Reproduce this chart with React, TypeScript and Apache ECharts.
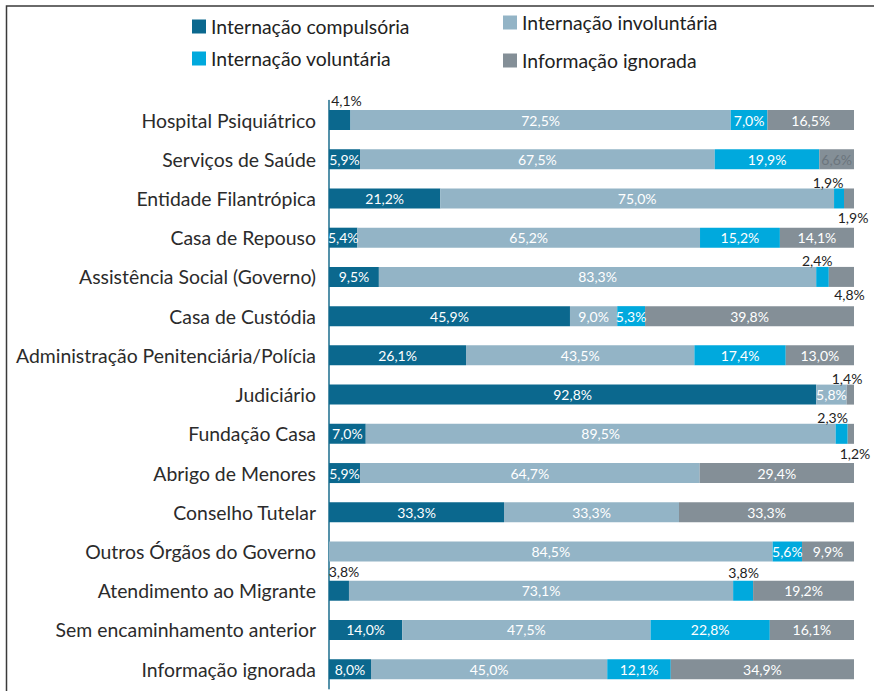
import React, { useEffect, useRef } from "react";
import * as echarts from "echarts";

const categories = [
  "Hospital Psiquiátrico",
  "Serviços de Saúde",
  "Entidade Filantrópica",
  "Casa de Repouso",
  "Assistência Social (Governo)",
  "Casa de Custódia",
  "Administração Penitenciária/Polícia",
  "Judiciário",
  "Fundação Casa",
  "Abrigo de Menores",
  "Conselho Tutelar",
  "Outros Órgãos do Governo",
  "Atendimento ao Migrante",
  "Sem encaminhamento anterior",
  "Informação ignorada",
];

const seriesNames = [
  "Internação compulsória",
  "Internação involuntária",
  "Internação voluntária",
  "Informação ignorada",
];

const compulsoria = [4.1, 5.9, 21.2, 5.4, 9.5, 45.9, 26.1, 92.8, 7.0, 5.9, 33.3, 0, 3.8, 14.0, 8.0];
const involuntaria = [72.5, 67.5, 75.0, 65.2, 83.3, 9.0, 43.5, 5.8, 89.5, 64.7, 33.3, 84.5, 73.1, 47.5, 45.0];
const voluntaria = [7.0, 19.9, 1.9, 15.2, 2.4, 5.3, 17.4, 0, 2.3, 0, 0, 5.6, 3.8, 22.8, 12.1];
const ignorada = [16.5, 6.6, 1.9, 14.1, 4.8, 39.8, 13.0, 1.4, 1.2, 29.4, 33.3, 9.9, 19.2, 16.1, 34.9];

const colors = ["#0b688e", "#93b4c6", "#00a9dd", "#848f97"];

// label placements for small segments: [seriesIndex, rowIndex] -> [dx, dy]
const outsideLabels: Record<string, [number, number]> = {
  "0-0": [17.5, -9.5],
  "2-2": [-6, -6],
  "3-2": [9, 29],
  "2-4": [1, -6],
  "3-4": [20.7, 28],
  "3-7": [0.4, -6.5],
  "2-8": [-3, -6.5],
  "3-8": [7.3, 29.3],
  "0-12": [15, -9],
  "2-12": [10.5, -8],
};

const FONT = "Lato, 'Open Sans', sans-serif";

export default function App() {
  const ref = useRef<HTMLDivElement>(null);
  useEffect(() => {
    if (!ref.current) return;
    const chart = echarts.init(ref.current, null, { renderer: "svg" });
    const all = [compulsoria, involuntaria, voluntaria, ignorada];
    const totals = categories.map((_, i) => all.reduce((s, arr) => s + arr[i], 0));
    const fmt = (v: number) => v.toFixed(1).replace(".", ",") + "%";

    const series = all.map((arr, si) => ({
      name: seriesNames[si],
      type: "bar",
      stack: "total",
      barWidth: 20,
      itemStyle: { color: colors[si] },
      data: arr.map((v, ri) => {
        const key = `${si}-${ri}`;
        const item: any = {
          value: v === 0 ? null : (v / totals[ri]) * 100,
          raw: v,
        };
        if (outsideLabels[key]) {
          const [dx, dy] = outsideLabels[key];
          item.label = {
            position: [dx, dy],
            align: "center",
            verticalAlign: "middle",
            color: "#222",
          };
        }
        if (si === 3 && ri === 1) {
          item.label = { color: "#6b757d" };
        }
        return item;
      }),
      label: {
        show: true,
        position: "inside",
        color: "#ffffff",
        fontSize: 14,
        fontFamily: FONT,
        formatter: (p: any) => (p.data && p.data.raw ? fmt(p.data.raw) : ""),
      },
    }));

    const legendBase = {
      icon: "rect",
      itemWidth: 14,
      itemHeight: 14,
      itemGap: 0,
      padding: 0,
      selectedMode: false,
      textStyle: { fontSize: 19.4, color: "#222", fontFamily: FONT },
    };

    chart.setOption({
      animation: false,
      backgroundColor: "#ffffff",
      legend: [
        { ...legendBase, data: [seriesNames[0]], left: 192, top: 17 },
        { ...legendBase, data: [seriesNames[2]], left: 192, top: 49 },
        { ...legendBase, data: [seriesNames[1]], left: 503, top: 13 },
        { ...legendBase, data: [seriesNames[3]], left: 503, top: 51 },
      ],
      graphic: [
        {
          type: "rect",
          shape: { x: 6.5, y: 6, width: 900, height: 700 },
          style: { fill: "none", stroke: "#3a3a3a", lineWidth: 1.5 },
          silent: true,
        },
      ],
      grid: { left: 329, right: 20, top: 100.4, bottom: 2.2, containLabel: false },
      xAxis: {
        type: "value",
        min: 0,
        max: 100,
        show: false,
      },
      yAxis: {
        type: "category",
        inverse: true,
        data: categories,
        axisTick: { show: false },
        axisLine: { show: true, lineStyle: { color: "#1b6c8d", width: 1.5 } },
        axisLabel: { fontSize: 19.4, color: "#2b2b2b", fontFamily: FONT, margin: 13 },
      },
      series,
    });
    return () => chart.dispose();
  }, []);
  return (
    <div
      ref={ref}
      style={{ position: "fixed", left: 0, top: 0, width: 874, height: 691 }}
    />
  );
}
